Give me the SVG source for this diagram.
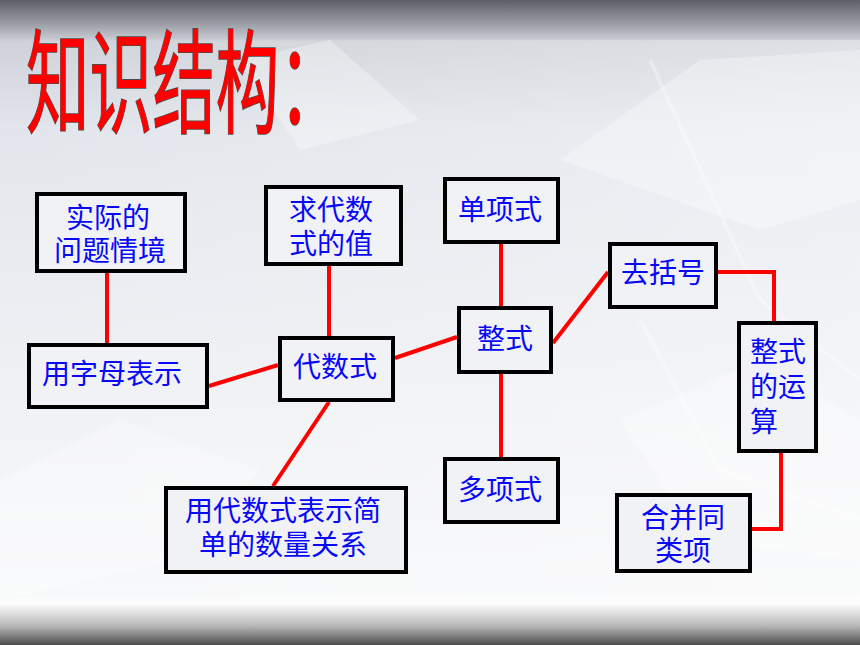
<svg xmlns="http://www.w3.org/2000/svg" width="860" height="645" viewBox="0 0 860 645">
<defs>
<linearGradient id="bg" x1="0" y1="0" x2="0" y2="1">
<stop offset="0" stop-color="#5c6066"/>
<stop offset="0.03" stop-color="#8e9298"/>
<stop offset="0.065" stop-color="#cfd3d9"/>
<stop offset="0.2" stop-color="#e2e6ec"/>
<stop offset="0.6" stop-color="#eff1f4"/>
<stop offset="0.925" stop-color="#f8f9fa"/>
<stop offset="0.935" stop-color="#ffffff"/>
<stop offset="0.97" stop-color="#b8b8b8"/>
<stop offset="1" stop-color="#4c4c4c"/>
</linearGradient>
<linearGradient id="hz" x1="0" y1="0" x2="1" y2="0">
<stop offset="0" stop-color="#ffffff" stop-opacity="0"/>
<stop offset="1" stop-color="#ffffff" stop-opacity="0.3"/>
</linearGradient>
<style>
.box{fill:#f0f2f6;stroke:#000;stroke-width:4}
.lbl{font-family:"Noto Sans CJK SC","Noto Sans CJK JP",sans-serif;font-size:28px;fill:#0808f5;text-anchor:middle;dominant-baseline:central}
.lft{text-anchor:start}
.con path{fill:none;stroke:#ff0000;stroke-width:4}
.deco{fill:#ffffff;opacity:0.3}
</style>
</defs>
<rect x="0" y="0" width="860" height="645" fill="url(#bg)"/>
<rect x="0" y="40" width="860" height="560" fill="url(#hz)"/>
<g id="background-shapes">
<polygon class="deco" points="0,480 120,420 260,470 180,560 0,600"/>
<polygon class="deco" points="560,160 700,60 860,50 860,200 760,230"/>
<polygon class="deco" points="620,420 760,360 860,420 860,560 700,540"/>
<polygon class="deco" points="240,60 330,40 420,120 300,150"/>
<path d="M640 320 L720 470 L860 520" fill="none" stroke="#ffffff" stroke-width="5" opacity="0.3"/>
<path d="M650 60 L760 300 L860 380" fill="none" stroke="#ffffff" stroke-width="4" opacity="0.3"/>
</g>
<g id="title">
<text transform="translate(26,124) scale(0.56,1)" x="0" y="0" font-family="Noto Sans CJK SC, sans-serif" font-size="113" font-weight="400" fill="#ff0000" stroke="#4a4a4a" stroke-width="1.6" paint-order="stroke">知识结构：</text>
</g>
<g id="connectors" class="con">
<path d="M107 273 V343"/>
<path d="M329 266 V336"/>
<path d="M209 386 L278 365"/>
<path d="M395 358 L457 337"/>
<path d="M329 402 L273 486"/>
<path d="M501 244 V306"/>
<path d="M501 374 V457"/>
<path d="M553 343 L608 272"/>
<path d="M718 272 H774 V321"/>
<path d="M781 453 V529 H752"/>
</g>
<g id="n1"><rect class="box" x="37" y="194" width="148" height="77"/><text class="lbl" x="108" y="216">实际的</text><text class="lbl" x="110" y="249">问题情境</text></g>
<g id="n2"><rect class="box" x="29" y="345" width="178" height="62"/><text class="lbl" x="112" y="372">用字母表示</text></g>
<g id="n3"><rect class="box" x="266" y="187" width="135" height="77"/><text class="lbl" x="331" y="208">求代数</text><text class="lbl" x="331" y="242">式的值</text></g>
<g id="n4"><rect class="box" x="280" y="338" width="113" height="62"/><text class="lbl" x="335" y="365">代数式</text></g>
<g id="n5"><rect class="box" x="445" y="179" width="113" height="63"/><text class="lbl" x="500" y="208">单项式</text></g>
<g id="n6"><rect class="box" x="459" y="308" width="92" height="64"/><text class="lbl" x="505" y="337">整式</text></g>
<g id="n7"><rect class="box" x="610" y="244" width="106" height="63"/><text class="lbl" x="663" y="271">去括号</text></g>
<g id="n8"><rect class="box" x="739" y="323" width="77" height="128"/><text class="lbl lft" x="750" y="350">整式</text><text class="lbl lft" x="750" y="385">的运</text><text class="lbl lft" x="750" y="420">算</text></g>
<g id="n9"><rect class="box" x="445" y="459" width="113" height="63"/><text class="lbl" x="500" y="488">多项式</text></g>
<g id="n10"><rect class="box" x="166" y="488" width="240" height="84"/><text class="lbl" x="283" y="509">用代数式表示简</text><text class="lbl" x="283" y="543">单的数量关系</text></g>
<g id="n11"><rect class="box" x="617" y="495" width="133" height="76"/><text class="lbl" x="683" y="516">合并同</text><text class="lbl" x="683" y="549">类项</text></g>
</svg>
